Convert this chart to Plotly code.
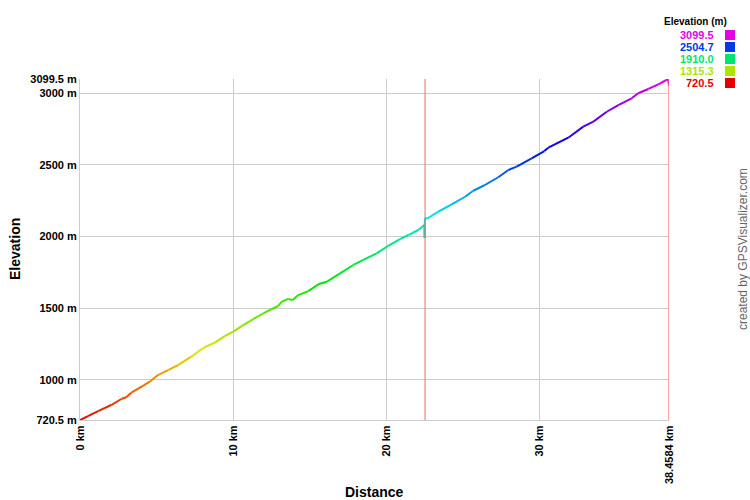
import colorsys
import plotly.graph_objects as go

# ---- data ----
distance_km = [0.0, 0.52, 1.18, 2.04, 2.70, 3.02, 3.35, 4.11, 4.55, 5.09, 5.75, 6.40, 7.27, 7.70,
               8.14, 8.80, 9.45, 10.06, 10.66, 11.32, 11.97, 12.52, 12.95, 13.17, 13.60, 13.89,
               14.25, 14.91, 15.56, 16.11, 16.98, 17.85, 18.50, 19.37, 20.13, 20.89, 21.44,
               22.09, 22.48, 22.50, 22.52, 22.70, 23.40, 24.27, 25.14, 25.68, 26.44, 27.31,
               27.97, 28.51, 29.49, 30.32, 30.58, 31.88, 32.86, 33.52, 34.39, 35.15, 36.02,
               36.45, 37.11, 37.76, 38.40, 38.4584]
elevation_m = [720.5, 748, 783, 825, 867, 879, 911, 958, 988, 1034, 1069, 1104, 1162, 1197,
               1228, 1260, 1306, 1341, 1383, 1425, 1465, 1495, 1516, 1546, 1565, 1558,
               1592, 1620, 1667, 1685, 1744, 1802, 1837, 1883, 1936, 1983, 2011,
               2046, 2081, 1990, 2128, 2128, 2174, 2225, 2278, 2320, 2360, 2414,
               2465, 2488, 2546, 2597, 2620, 2690, 2767, 2802, 2871, 2918, 2965,
               3000, 3030, 3062, 3099.5, 3052]

marker_km = 22.53          # vertical marker line
legend_values = ["3099.5", "2504.7", "1910.0", "1315.3", "720.5"]
y_tickvals = [720.5, 1000, 1500, 2000, 2500, 3000, 3099.5]
y_ticktext = ["720.5 m", "1000 m", "1500 m", "2000 m", "2500 m", "3000 m", "3099.5 m"]
x_tickvals = [0, 10, 20, 30, 38.4584]
x_ticktext = ["0 km", "10 km", "20 km", "30 km", "38.4584 km"]

emin, emax = 720.5, 3099.5
xmax = 38.4584


def elev_color(e):
    t = (e - emin) / (emax - emin)
    t = min(max(t, 0), 1)
    r, g, b = colorsys.hsv_to_rgb(t * 300 / 360.0, 1.0, 0.9)
    return "rgb(%d,%d,%d)" % (r * 255, g * 255, b * 255)


fig = go.Figure()
for i in range(len(distance_km) - 1):
    em = (elevation_m[i] + elevation_m[i + 1]) / 2
    fig.add_trace(go.Scatter(
        x=distance_km[i:i + 2], y=elevation_m[i:i + 2], mode="lines",
        line=dict(color=elev_color(em), width=2), showlegend=False, hoverinfo="skip"))

FONT = "Liberation Sans, Arial, sans-serif"
L, R, T, B = 80, 669, 79, 420


def px_x(p):
    return (p - L) / (R - L)


def px_y(p):
    return (B - p) / (B - T)


shapes = [
    dict(type="line", xref="x", yref="paper", x0=marker_km, x1=marker_km, y0=0, y1=1,
         line=dict(color="#e86a6a", width=1)),
    dict(type="line", xref="x", yref="paper", x0=xmax, x1=xmax, y0=0, y1=1,
         line=dict(color="#ff6666", width=1.2)),
]
annotations = [
    dict(text="<b>Elevation (m)</b>", xref="paper", yref="paper", x=px_x(729), y=px_y(22),
         xanchor="right", yanchor="middle", showarrow=False,
         font=dict(family=FONT, size=10, color="black")),
    dict(text="created by GPSVisualizer.com", xref="paper", yref="paper", x=px_x(743),
         y=px_y(249), textangle=-90, xanchor="center", yanchor="middle", showarrow=False,
         font=dict(family=FONT, size=12, color="#666666")),
    dict(text="<b>Distance</b>", xref="paper", yref="paper", x=px_x(374), y=px_y(492),
         xanchor="center", yanchor="middle", showarrow=False,
         font=dict(family=FONT, size=14, color="black")),
    dict(text="<b>Elevation</b>", xref="paper", yref="paper", x=px_x(15), y=px_y(249),
         textangle=-90, xanchor="center", yanchor="middle", showarrow=False,
         font=dict(family=FONT, size=14, color="black")),
]
legend_y = [35, 47, 59, 71, 83]
for val, yy in zip(legend_values, legend_y):
    c = elev_color(float(val))
    annotations.append(dict(text="<b>%s</b>" % val, xref="paper", yref="paper",
                            x=px_x(716), y=px_y(yy), xanchor="right", yanchor="middle",
                            showarrow=False, font=dict(family=FONT, size=11, color=c)))
    shapes.append(dict(type="rect", xref="paper", yref="paper",
                       x0=px_x(725), x1=px_x(735), y0=px_y(yy + 5), y1=px_y(yy - 5),
                       fillcolor=c, line=dict(width=0)))

fig.update_layout(
    width=750, height=500,
    margin=dict(l=L, r=750 - R, t=T, b=500 - B, autoexpand=False),
    paper_bgcolor="white", plot_bgcolor="white",
    font=dict(family=FONT, size=11, color="black"),
    shapes=shapes, annotations=annotations,
    xaxis=dict(range=[0, xmax], tickvals=x_tickvals, ticktext=["<b>%s</b>" % t for t in x_ticktext],
               tickangle=-90, showgrid=True, gridcolor="#cccccc", gridwidth=1,
               zeroline=False, showline=True, linecolor="#cccccc", ticks="",
               automargin=False,
               tickfont=dict(family=FONT, size=11, color="black")),
    yaxis=dict(range=[emin, emax], tickvals=y_tickvals, ticktext=["<b>%s</b>" % t for t in y_ticktext],
               showgrid=True, gridcolor="#cccccc", gridwidth=1, zeroline=False,
               showline=True, linecolor="#cccccc", ticks="", automargin=False,
               tickfont=dict(family=FONT, size=11, color="black")),
)

fig.write_html("out.html", config={"displayModeBar": False},
               post_script="document.body.style.margin='0';")
